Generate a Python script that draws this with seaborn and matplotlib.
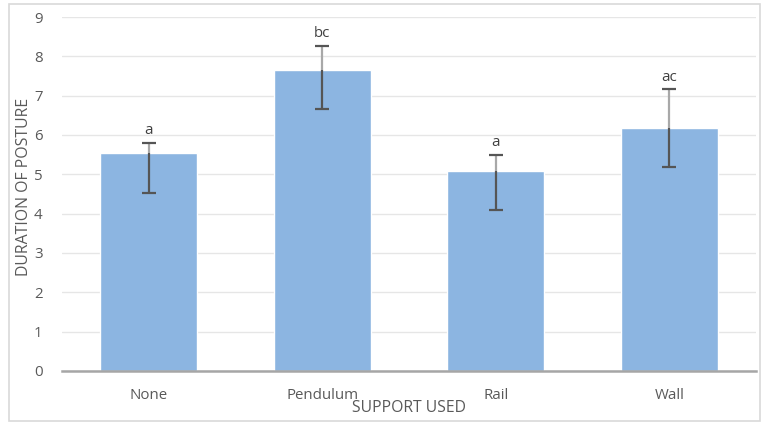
import matplotlib
matplotlib.use("Agg")
import matplotlib.pyplot as plt
from matplotlib.patches import Rectangle
import seaborn as sns
import pandas as pd

# Mean posture duration per support type, with asymmetric error ranges
supports = ["None", "Pendulum", "Rail", "Wall"]
durations = [5.53, 7.64, 5.08, 6.17]
err_upper = [0.27, 0.62, 0.41, 0.99]
err_lower = [1.01, 0.99, 0.99, 0.98]
letters = ["a", "bc", "a", "ac"]
y_ticks = [0, 1, 2, 3, 4, 5, 6, 7, 8, 9]

sns.set_theme(style="white")
plt.rcParams["font.family"] = ["Open Sans", "DejaVu Sans"]

df = pd.DataFrame({"support": supports, "duration": durations})

fig = plt.figure(figsize=(7.62, 4.25), dpi=100)
ax = fig.add_axes([62 / 762, 1 - 371 / 425, (756 - 62) / 762, (371 - 17) / 425])

# chart frame
fig.patches.append(Rectangle((9 / 762, 4 / 425), 751 / 762, 417 / 425,
                             transform=fig.transFigure, fill=False,
                             edgecolor="#d9d9d9", linewidth=1.2, zorder=0))

sns.barplot(data=df, x="support", y="duration", color="#8cb5e1",
            saturation=1, width=0.56, errorbar=None, ax=ax, zorder=2)

xs = list(range(len(supports)))
lows = [d - e for d, e in zip(durations, err_lower)]
highs = [d + e for d, e in zip(durations, err_upper)]

# error whiskers: dark inside the bar, pale above it
ax.vlines(xs, lows, durations, color="#555555", linewidth=1.6, zorder=3)
ax.vlines(xs, durations, highs, color="#a8a8a8", linewidth=1.6, zorder=3)
ax.errorbar(xs, durations, yerr=[err_lower, err_upper], fmt="none",
            ecolor="#555555", elinewidth=0, capsize=5, capthick=1.6, zorder=4)

for i, (h, lab) in enumerate(zip(highs, letters)):
    ax.text(i, h + 0.12, lab, ha="center", va="bottom",
            fontsize=10.8, color="#404040")

ax.set_ylim(0, 9)
ax.set_xlim(-0.5, len(supports) - 0.5)
ax.set_yticks(y_ticks)
ax.yaxis.grid(True, color="#e6e6e6", linewidth=1)
ax.set_axisbelow(True)
for s in ["top", "right", "left"]:
    ax.spines[s].set_visible(False)
ax.spines["bottom"].set_color("#a6a6a6")
ax.spines["bottom"].set_linewidth(1.8)
ax.spines["bottom"].set_zorder(4)

ax.tick_params(axis="both", length=0, labelsize=10.8, labelcolor="#595959")
ax.tick_params(axis="y", pad=14)
ax.tick_params(axis="x", pad=12)

ax.set_xlabel("SUPPORT USED", fontsize=11.3, color="#595959", labelpad=-2)
ax.set_ylabel("DURATION OF POSTURE", fontsize=11.4, color="#595959")
ax.yaxis.set_label_coords(-0.043, 0.52)

fig.savefig("out.png", dpi=100, facecolor="white")
